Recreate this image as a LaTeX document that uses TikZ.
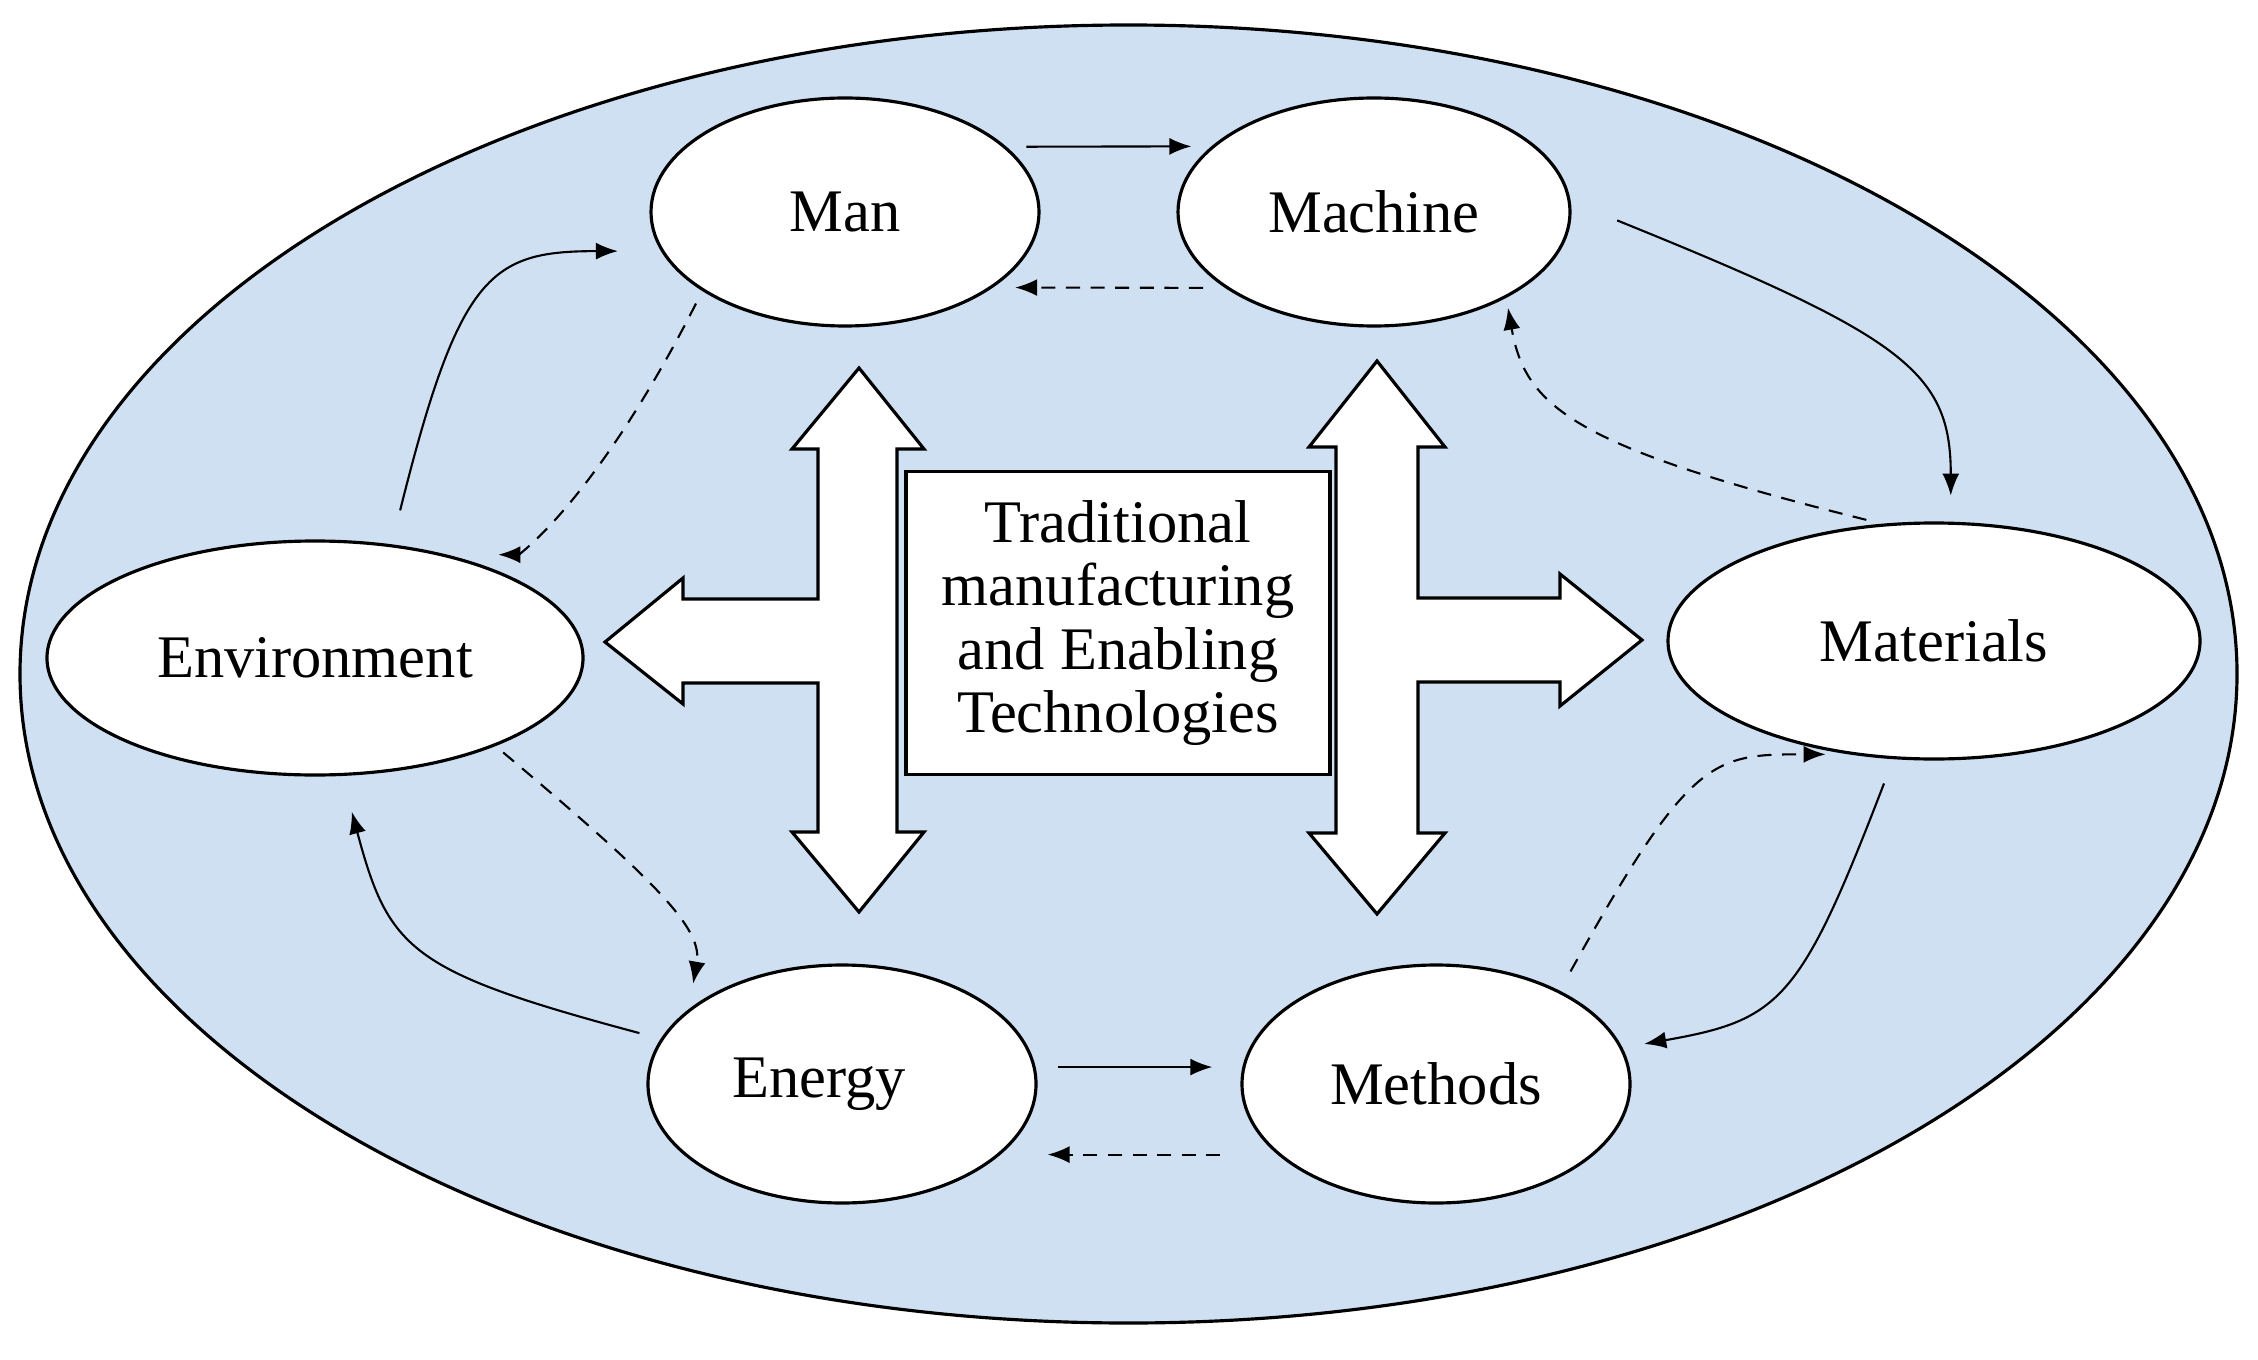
\documentclass[tikz,border=0pt]{standalone}
\usepackage{fontspec}
\setmainfont{Liberation Serif}
\usetikzlibrary{shapes.geometric,arrows.meta}
\definecolor{paleblue}{RGB}{207,224,242}
\begin{document}
\begin{tikzpicture}[
    factor/.style={ellipse,draw,fill=white,line width=0.9pt,inner sep=0pt,font=\fontsize{17.2}{19}\selectfont},
    flow/.style={-{Latex[length=2.2mm,width=1.7mm]},line width=0.6pt},
    back/.style={flow,dash pattern=on 4pt off 3pt}]
    \useasboundingbox (0,0) rectangle (22.58,-13.60);
    \draw[fill=paleblue,line width=0.9pt] (11.285,-6.74) ellipse (11.085 and 6.49);
    \draw[fill=white,line width=0.9pt] (8.59,-3.68) -- (9.24,-4.49) -- (8.97,-4.49) -- (8.97,-8.32) -- (9.24,-8.32) -- (8.59,-9.12) -- (7.92,-8.32) -- (8.18,-8.32) -- (8.18,-6.83) -- (6.83,-6.83) -- (6.83,-7.04) -- (6.05,-6.42) -- (6.83,-5.78) -- (6.83,-5.99) -- (8.18,-5.99) -- (8.18,-4.49) -- (7.92,-4.49) -- cycle;
    \draw[fill=white,line width=0.9pt] (13.77,-3.61) -- (14.45,-4.47) -- (14.18,-4.47) -- (14.18,-5.98) -- (15.60,-5.98) -- (15.60,-5.74) -- (16.42,-6.40) -- (15.60,-7.06) -- (15.60,-6.82) -- (14.18,-6.82) -- (14.18,-8.33) -- (14.45,-8.33) -- (13.77,-9.14) -- (13.09,-8.33) -- (13.36,-8.33) -- (13.36,-4.47) -- (13.09,-4.47) -- cycle;
    \node[draw,fill=white,line width=0.9pt,minimum width=4.24cm,minimum height=3.03cm,align=center,font=\fontsize{17.2}{18}\selectfont] (core) at (11.18,-6.23) {Traditional\\manufacturing\\and Enabling\\Technologies};
    \node[factor,minimum width=3.88cm,minimum height=2.28cm] (man) at (8.45,-2.12) {Man};
    \node[factor,minimum width=3.92cm,minimum height=2.28cm] (machine) at (13.74,-2.12) {Machine};
    \node[factor,minimum width=5.36cm,minimum height=2.34cm] (environment) at (3.15,-6.58) {Environment};
    \node[factor,minimum width=5.32cm,minimum height=2.36cm] (materials) at (19.34,-6.41) {Materials};
    \node[factor,minimum width=3.88cm,minimum height=2.38cm] (energy) at (8.42,-10.84) {Energy\kern0.46cm};
    \node[factor,minimum width=3.88cm,minimum height=2.38cm] (methods) at (14.36,-10.84) {Methods};
    \draw[flow,shorten <=2mm,shorten >=2mm] (man.22) -- (machine.158);
    \draw[back,shorten <=2.2mm,shorten >=2.2mm] (machine.-153) -- (man.-27);
    \draw[flow,shorten <=5mm,shorten >=2.6mm] (machine.3) to[out=-22,in=90,out distance=3.6cm,in distance=1.5cm] (materials.82);
    \draw[back,shorten <=1.6mm,shorten >=1mm] (materials.114) to[out=166,in=-80,out distance=3.2cm,in distance=1.1cm] (machine.-33);
    \draw[flow,shorten <=2.6mm,shorten >=2.2mm] (materials.-109) to[out=-111,in=10,out distance=2.6cm,in distance=1.6cm] (methods.11);
    \draw[back,shorten <=2.2mm,shorten >=2.3mm] (methods.37) to[out=61,in=180,out distance=2.7cm,in distance=1.35cm] (materials.-127);
    \draw[flow,shorten <=2.2mm,shorten >=3mm] (energy.5) -- (methods.175);
    \draw[back,shorten <=5.7mm,shorten >=4.7mm] (methods.204) -- (energy.-24);
    \draw[flow,shorten <=2.2mm,shorten >=3.7mm] (energy.166) to[out=165,in=-75,out distance=2.6cm,in distance=1.8cm] (environment.-77);
    \draw[back,shorten <=1mm,shorten >=2.6mm] (environment.-26) to[out=-40,in=80,out distance=2.2cm,in distance=0.8cm] (energy.154);
    \draw[flow,shorten <=3.5mm,shorten >=4.3mm] (environment.56) to[out=76,in=180,out distance=2.8cm,in distance=1.7cm] (man.192);
    \draw[back,shorten <=1.4mm,shorten >=5.1mm] (man.209) to[out=-117,in=0,out distance=2.4cm,in distance=0.7cm] (environment.38);
\end{tikzpicture}
\end{document}
